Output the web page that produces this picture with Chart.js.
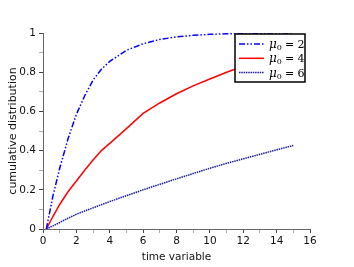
<!DOCTYPE html>
<html>
<head>
<meta charset="utf-8">
<script src="https://cdn.jsdelivr.net/npm/chart.js@4"></script>
<style>
  html, body { margin: 0; padding: 0; background: #fff; }
  #wrap { width: 354px; height: 267px; }
</style>
</head>
<body>
<div id="wrap"><canvas id="chart1" width="354" height="267"></canvas></div>
<script>
// data
const times = [0.2, 0.6, 1, 1.5, 2, 2.5, 3, 3.5, 4, 5, 6, 7, 8, 9, 10, 11, 12, 13, 14, 15];
const mu2 = [0, 0.17, 0.31, 0.46, 0.585, 0.68, 0.76, 0.815, 0.855, 0.912, 0.945, 0.967, 0.98, 0.988, 0.993, 0.996, 0.998, 0.999, 1, 1];
const mu4 = [0, 0.065, 0.125, 0.19, 0.245, 0.3, 0.352, 0.4, 0.437, 0.512, 0.59, 0.643, 0.69, 0.73, 0.765, 0.8, 0.83, 0.855, 0.875, 0.895];
const mu6 = [0, 0.016, 0.033, 0.055, 0.075, 0.092, 0.108, 0.124, 0.14, 0.17, 0.2, 0.228, 0.256, 0.283, 0.31, 0.335, 0.358, 0.381, 0.404, 0.426];
const labels = ['2', '4', '6'];
const xTicks = [0, 2, 4, 6, 8, 10, 12, 14, 16];
const yTicks = [0, 0.2, 0.4, 0.6, 0.8, 1];

const pts = arr => times.map((t, i) => ({ x: t, y: arr[i] }));

const styles = [
  { color: '#0000ff', dash: [6, 2, 1.5, 2, 1.5, 2] },
  { color: '#ff0000', dash: [] },
  { color: '#1c1c9c', dash: [1.5, 0.8] }
];

// legend in the top right corner, drawn on the canvas
const legendBox = {
  id: 'legendBox',
  afterDraw(chart) {
    const c = chart.ctx, a = chart.chartArea;
    const x0 = a.right - 75, y0 = a.top + 1, w = 70, h = 48;
    c.save();
    c.fillStyle = '#fff';
    c.fillRect(x0, y0, w, h);
    c.lineWidth = 1.5;
    c.strokeStyle = '#000';
    c.strokeRect(x0, y0, w, h);
    labels.forEach((lab, i) => {
      const y = y0 + 10 + i * 14.3;
      const s = styles[i];
      c.beginPath();
      c.setLineDash(s.dash);
      c.strokeStyle = s.color;
      c.lineWidth = 1.5;
      c.moveTo(x0 + 4, y);
      c.lineTo(x0 + 29, y);
      c.stroke();
      c.setLineDash([]);
      c.fillStyle = '#000';
      c.textBaseline = 'alphabetic';
      c.font = 'italic 12px "DejaVu Serif"';
      let tx = x0 + 34;
      c.fillText('μ', tx, y + 4);
      tx += c.measureText('μ').width;
      c.font = '8px "DejaVu Serif"';
      c.fillText('0', tx, y + 6);
      tx += c.measureText('0').width + 3;
      c.font = '11px "DejaVu Serif"';
      c.fillText('= ' + lab, tx, y + 4);
    });
    c.restore();
  }
};

const ctx = document.getElementById('chart1');

new Chart(ctx, {
  type: 'line',
  data: {
    datasets: labels.map((lab, i) => ({
      label: 'μ0 = ' + lab,
      data: pts([mu2, mu4, mu6][i]),
      borderColor: styles[i].color,
      borderDash: styles[i].dash,
      borderWidth: 1.5,
      pointRadius: 0,
      tension: 0,
      fill: false
    }))
  },
  options: {
    responsive: false,
    animation: false,
    layout: { padding: { top: 33, right: 44, left: 0, bottom: 0 } },
    plugins: { legend: { display: false }, tooltip: { enabled: false } },
    scales: {
      x: {
        type: 'linear',
        min: 0, max: 16,
        afterFit: s => { s.height = 38; },
        afterBuildTicks: s => { s.ticks = Array.from({ length: 17 }, (_, k) => ({ value: k })); },
        border: { color: '#666', width: 1 },
        grid: {
          drawOnChartArea: false,
          tickLength: 4,
          tickColor: c => (c.tick && c.tick.value % 2 ? '#aaa' : '#444')
        },
        ticks: {
          autoSkip: false,
          maxRotation: 0,
          padding: 2,
          color: '#111',
          font: { family: 'DejaVu Sans', size: 10.5 },
          callback: v => (xTicks.includes(v) ? String(v) : '')
        },
        title: {
          display: true,
          text: 'time variable',
          color: '#111',
          font: { family: 'DejaVu Sans', size: 10.5 },
          padding: { top: 0, bottom: 3 }
        }
      },
      y: {
        type: 'linear',
        min: 0, max: 1,
        afterFit: s => { s.width = 43; },
        afterBuildTicks: s => { s.ticks = Array.from({ length: 11 }, (_, k) => ({ value: k / 10 })); },
        border: { color: '#666', width: 1 },
        grid: {
          drawOnChartArea: false,
          tickLength: 4,
          tickColor: c => (c.tick && Math.round(c.tick.value * 10) % 2 ? '#aaa' : '#444')
        },
        ticks: {
          autoSkip: false,
          padding: 3,
          color: '#111',
          font: { family: 'DejaVu Sans', size: 10.5 },
          callback: v => {
            const r = Math.round(v * 10) / 10;
            return yTicks.includes(r) ? String(r) : '';
          }
        },
        title: {
          display: true,
          text: 'cumulative distribution',
          color: '#111',
          font: { family: 'DejaVu Sans', size: 11 },
          padding: { top: 7, bottom: 0 }
        }
      }
    }
  },
  plugins: [legendBox]
});
</script>
</body>
</html>
